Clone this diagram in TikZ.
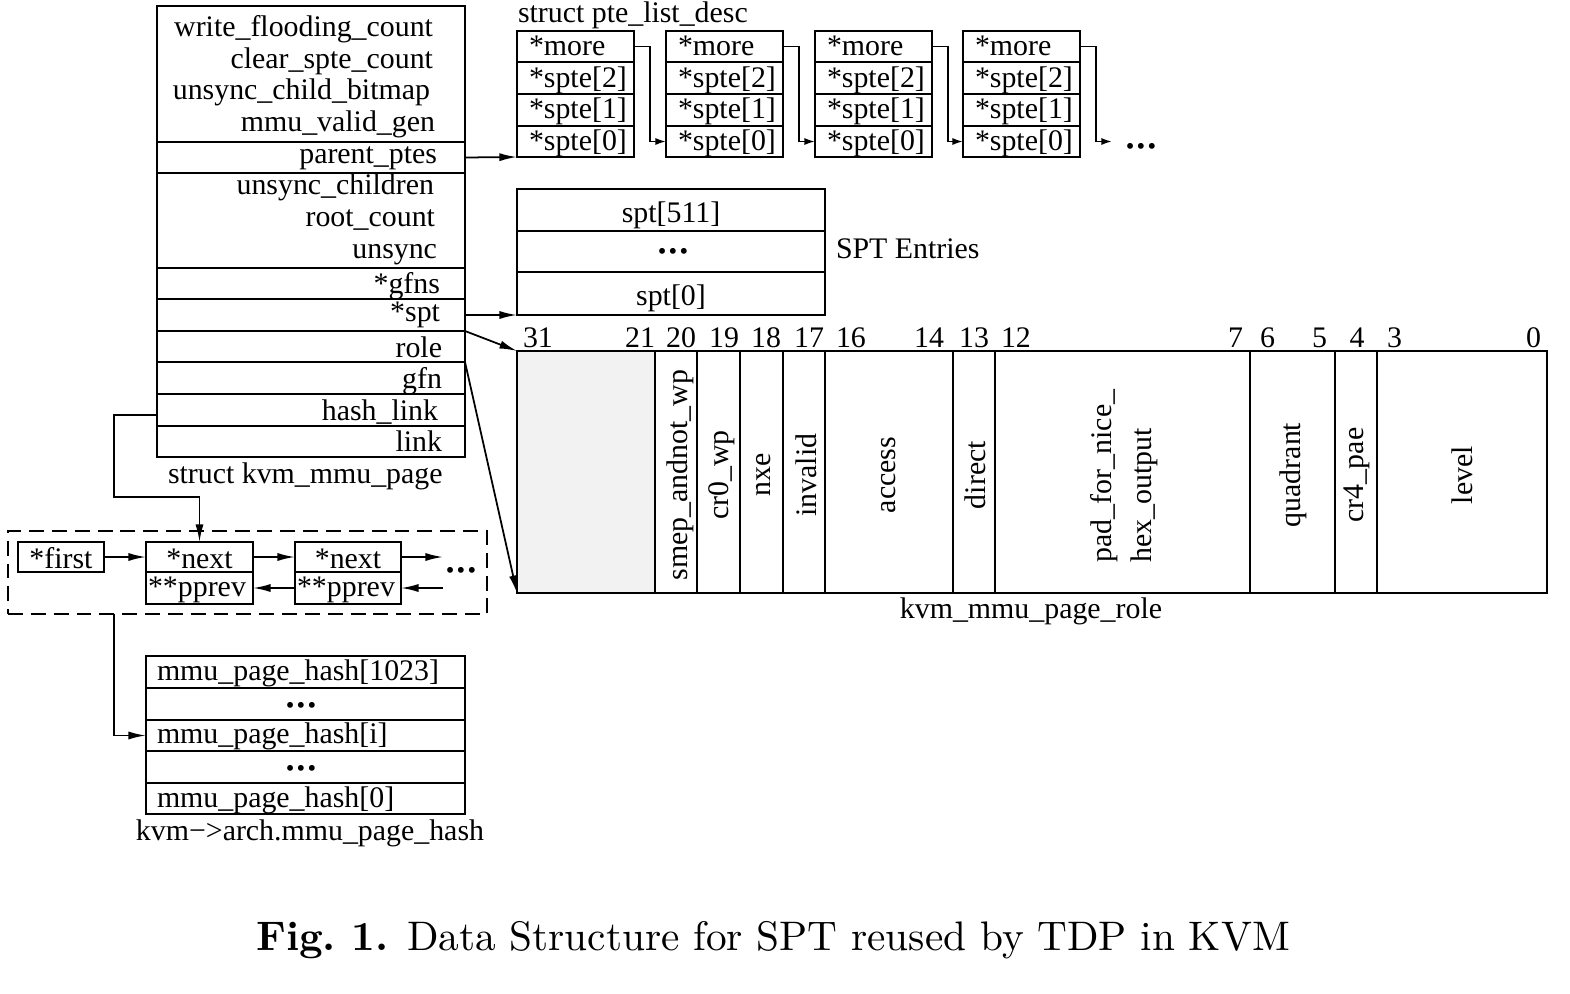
\documentclass[tikz,border=0pt]{standalone}
\usepackage{fontspec}
\usepackage{graphicx}
\newfontfamily\tm{Liberation Serif}
\usetikzlibrary{arrows.meta,fit}
\newcommand\tdots{{\tm\fontsize{14}{14}\selectfont •\kern1.3pt•\kern1.3pt•}}
\tikzset{
 box/.style={draw, line width=1pt, inner sep=0pt, outer sep=0pt},
 txt/.style={font=\tm\fontsize{17}{20}\selectfont, inner sep=0pt, outer sep=0pt},
 rtxt/.style={txt, rotate=90},
 dotstxt/.style={inner sep=0pt, outer sep=0pt, anchor=base},
 arr/.style={line width=1pt, -{Latex[length=10pt,width=4.6pt]}},
 sarr/.style={line width=1pt, -{Latex[length=6pt,width=4pt]}},
 dbox/.style={draw, line width=1pt, inner sep=0pt, outer sep=0pt, dash pattern=on 8.5pt off 4.5pt},
 divider/.style={line width=1pt},
}
\begin{document}
\begin{tikzpicture}[x=0.02cm,y=-0.02cm]
\useasboundingbox (0,0) rectangle (1570,994);

% struct kvm_mmu_page
\node[box, fit={(157,6)(465,142)}] (k1) {};
\node[box, fit={(157,142)(465,173)}] (kpp) {};
\node[box, fit={(157,173)(465,268)}] (kus) {};
\node[box, fit={(157,268)(465,299)}] (kgf) {};
\node[box, fit={(157,299)(465,331)}] (ksp) {};
\node[box, fit={(157,331)(465,362)}] (krl) {};
\node[box, fit={(157,362)(465,394)}] (kgn) {};
\node[box, fit={(157,394)(465,426)}] (khl) {};
\node[box, fit={(157,426)(465,457)}] (klk) {};
\node[txt, anchor=base east] (t1) at (433,36) {write\_flooding\_count};
\node[txt, anchor=base east] (t2) at (433,68) {clear\_spte\_count};
\node[txt, anchor=base east] (t3) at (430,99) {unsync\_child\_bitmap};
\node[txt, anchor=base east] (t4) at (435,131) {mmu\_valid\_gen};
\node[txt, anchor=base east] (t5) at (437,163) {parent\_ptes};
\node[txt, anchor=base east] (t6) at (434,194) {unsync\_children};
\node[txt, anchor=base east] (t7) at (435,226) {root\_count};
\node[txt, anchor=base east] (t8) at (437,258) {unsync};
\node[txt, anchor=base east] (t9) at (440,293) {*gfns};
\node[txt, anchor=base east] (t10) at (440,321) {*spt};
\node[txt, anchor=base east] (t11) at (442,357) {role};
\node[txt, anchor=base east] (t12) at (442,388) {gfn};
\node[txt, anchor=base east] (t13) at (438,420) {hash\_link};
\node[txt, anchor=base east] (t14) at (442,451) {link};
\node[txt, anchor=base west] (tk) at (168,483) {struct kvm\_mmu\_page};

% struct pte_list_desc
\node[txt, anchor=base west] (tpl) at (518,22) {struct pte\_list\_desc};
\foreach \i/\x in {1/517,2/666,3/815,4/963}{
 \node[box, fit={(\x,31)(\x+117,62)}] (m\i) {};
 \node[box, fit={(\x,62)(\x+117,94)}] (a\i) {};
 \node[box, fit={(\x,94)(\x+117,126)}] (b\i) {};
 \node[box, fit={(\x,126)(\x+117,157)}] (c\i) {};
 \node[txt, anchor=base west] (tm\i) at (\x+12,55) {*more};
 \node[txt, anchor=base west] (ta\i) at (\x+12,87) {*spte[2]};
 \node[txt, anchor=base west] (tb\i) at (\x+12,118) {*spte[1]};
 \node[txt, anchor=base west] (tc\i) at (\x+12,150) {*spte[0]};
}
\foreach \i/\j in {1/2,2/3,3/4}{
 \draw[sarr] (m\i.east) -- ++(16,0) |- (c\j.west);
}
\coordinate (pend) at (1112,141.5);
\draw[sarr] (m4.east) -- ++(16,0) |- (pend);
\node[dotstxt] (pdots) at (1141,154) {\tdots};

% SPT entries
\node[box, fit={(517,189)(825,231)}] (sp2) {};
\node[box, fit={(517,231)(825,272)}] (sp1) {};
\node[box, fit={(517,272)(825,315)}] (sp0) {};
\node[txt, anchor=base] (ts2) at (671,222) {spt[511]};
\node[dotstxt] (ts1) at (673,259) {\tdots};
\node[txt, anchor=base] (ts0) at (671,305) {spt[0]};
\node[txt, anchor=base west] (tspt) at (836,258) {SPT Entries};

% kvm_mmu_page_role
\fill[black!5] (517,351) rectangle (655,593);
\node[box, fit={(517,351)(1547,593)}] (reg) {};
\foreach \x in {655,697,740,783,825,953,995,1250,1335,1377}{
 \draw[divider] (\x,351) -- (\x,593);
}
\node[txt, anchor=base west] (b31) at (523,347) {31};
\node[txt, anchor=base east] (b21) at (655,347) {21};
\node[txt, anchor=base] (b20) at (681,347) {20};
\node[txt, anchor=base] (b19) at (724,347) {19};
\node[txt, anchor=base] (b18) at (766,347) {18};
\node[txt, anchor=base] (b17) at (809,347) {17};
\node[txt, anchor=base west] (b16) at (836,347) {16};
\node[txt, anchor=base east] (b14) at (944,347) {14};
\node[txt, anchor=base] (b13) at (974,347) {13};
\node[txt, anchor=base west] (b12) at (1001,347) {12};
\node[txt, anchor=base east] (b7) at (1243,347) {7};
\node[txt, anchor=base west] (b6) at (1260,347) {6};
\node[txt, anchor=base east] (b5) at (1327,347) {5};
\node[txt, anchor=base] (b4) at (1357,347) {4};
\node[txt, anchor=base west] (b3) at (1387,347) {3};
\node[txt, anchor=base east] (b0) at (1541,347) {0};

\node[rtxt] (f20) at (680,475) {smep\_andnot\_wp};
\node[rtxt] (f19) at (722,475) {cr0\_wp};
\node[rtxt] (f18) at (764,475) {nxe};
\node[rtxt] (f17) at (806,475) {invalid};
\node[rtxt] (f16) at (889,475) {access};
\node[rtxt] (f13) at (975,475) {direct};
\node[rtxt, font=\tm\fontsize{17}{22.7}\selectfont, align=left] (f12) at (1124,476) {pad\_for\_nice\_\\hex\_output};
\node[rtxt] (f6) at (1293,475) {quadrant};
\node[rtxt] (f4) at (1357,475) {cr4\_pae};
\node[rtxt] (f3) at (1462,475) {level};
\node[txt, anchor=base] (trole) at (1031,618) {kvm\_mmu\_page\_role};

% connectors from struct
\draw[arr] (kpp.east) -- (c1.south west);
\draw[arr] (ksp.east) -- (sp0.south west);
\draw[arr] (krl.north east) -- (reg.north west);
\draw[arr] (kgn.north east) -- (reg.south west);

% hlist
\node[dbox, fit={(8,531)(487,614)}] (ll) {};
\node[box, fit={(18,542)(104,572)}] (fst) {};
\node[box, fit={(146,542)(253,572)}] (n1a) {};
\node[box, fit={(146,572)(253,604)}] (n1b) {};
\node[box, fit={(295,542)(401,572)}] (n2a) {};
\node[box, fit={(295,572)(401,604)}] (n2b) {};
\node[txt, anchor=base] (tfst) at (61,568) {*first};
\node[txt, anchor=base] (tn1a) at (199.5,568) {*next};
\node[txt, anchor=base] (tn1b) at (197,596) {**pprev};
\node[txt, anchor=base] (tn2a) at (348,568) {*next};
\node[txt, anchor=base] (tn2b) at (346,596) {**pprev};
\coordinate (lle) at (443,557);
\coordinate (llf) at (443,588);
\node[dotstxt] (ldots) at (461,578) {\tdots};
\draw[arr] (fst.east) -- (n1a.west);
\draw[arr] (n1a.east) -- (n2a.west);
\draw[arr] (n2a.east) -- (lle);
\draw[arr] (n2b.west |- llf) -- (n1b.east |- llf);
\draw[arr] (llf) -- (n2b.east |- llf);

% hash table
\node[box, fit={(146,656)(465,688)}] (h4) {};
\node[box, fit={(146,688)(465,720)}] (h3) {};
\node[box, fit={(146,720)(465,751)}] (h2) {};
\node[box, fit={(146,751)(465,783)}] (h1) {};
\node[box, fit={(146,783)(465,814)}] (h0) {};
\node[txt, anchor=base west] (th4) at (157,680) {mmu\_page\_hash[1023]};
\node[dotstxt] (th3) at (301,713) {\tdots};
\node[txt, anchor=base west] (th2) at (157,743) {mmu\_page\_hash[i]};
\node[dotstxt] (th1) at (301,776) {\tdots};
\node[txt, anchor=base west] (th0) at (157,807) {mmu\_page\_hash[0]};
\node[txt, anchor=base] (thash) at (310,840) {kvm−>arch.mmu\_page\_hash};

\draw[arr] ([yshift=-0.1cm]khl.west) -- ++(-43,0) coordinate (hturn) |- (199.5,497) -- (n1a.north);
\draw[arr] (ll.south -| hturn) |- (h2.west);

% caption
\node[anchor=base, inner sep=0pt] (cap) at (773,950) {\scalebox{2.35}{\fontsize{10}{12}\selectfont\textbf{Fig.\ 1.} Data Structure for SPT reused by TDP in KVM}};
\end{tikzpicture}
\end{document}
